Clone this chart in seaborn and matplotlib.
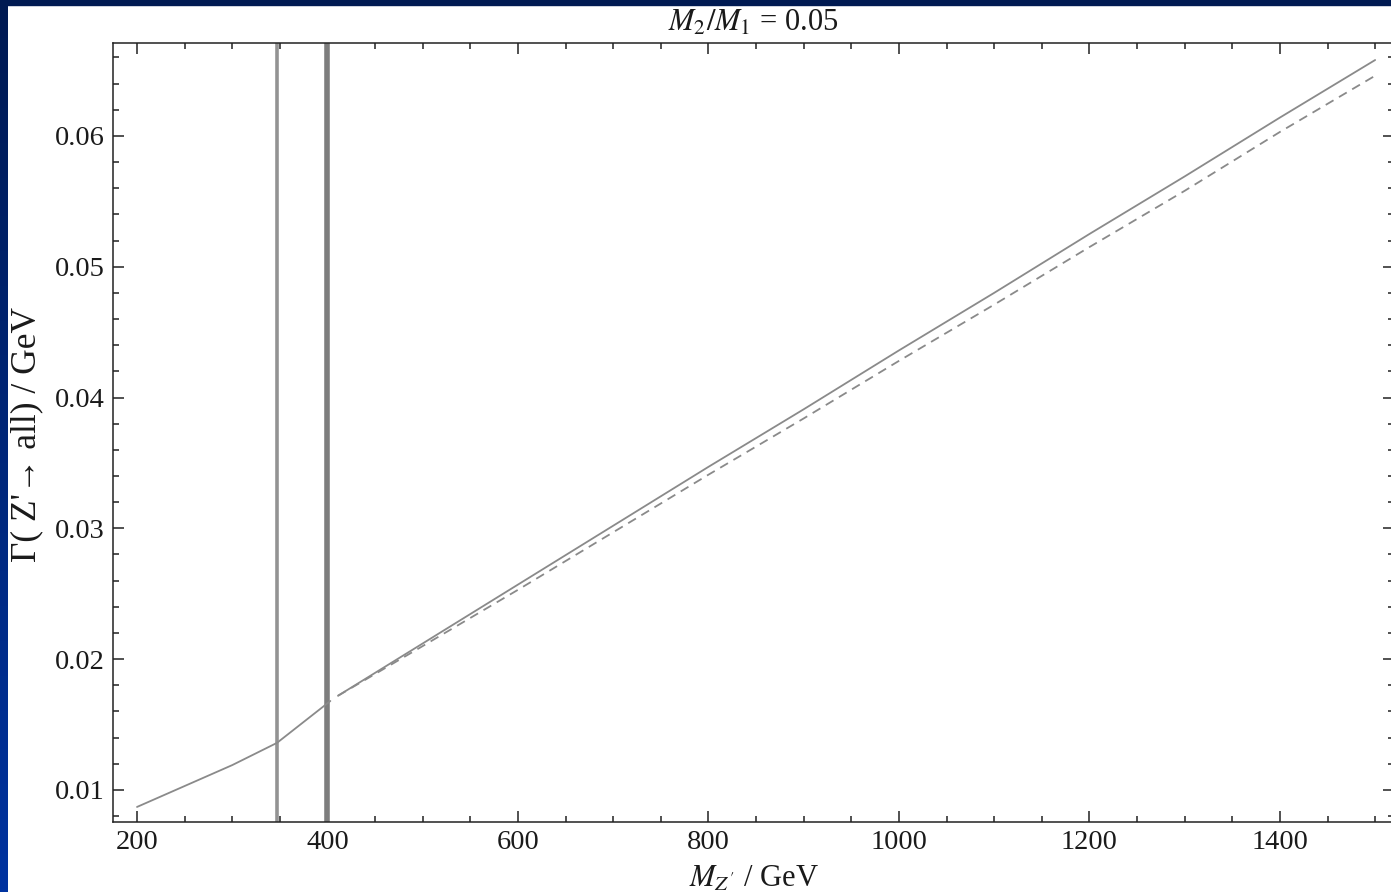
"""
Largura total do Z' em função da massa, M2/M1 = 0.05.
"""

import matplotlib
matplotlib.use("Agg")
import matplotlib.pyplot as plt
import matplotlib.ticker as mticker
from matplotlib.colors import LinearSegmentedColormap
import numpy as np
import seaborn as sns

# dados (GeV, GeV)
massa_baixa = [200, 250, 300, 347, 375, 403]
gamma_baixa = [0.0087, 0.0103, 0.0119, 0.0136, 0.0152, 0.0168]

massa_alta = [411, 500, 600, 700, 800, 900, 1000, 1100, 1200, 1300, 1400, 1500]
gamma_cheia = [0.0172, 0.0212, 0.0257, 0.0302, 0.0347, 0.0391, 0.0436,
               0.0480, 0.0525, 0.0569, 0.0614, 0.0658]
gamma_tracejada = [0.0172, 0.0210, 0.0253, 0.0297, 0.0341, 0.0384, 0.0428,
                   0.0471, 0.0515, 0.0558, 0.0603, 0.0646]

limiares = [347, 400]
xticks = [200, 400, 600, 800, 1000, 1200, 1400]
yticks = [0.01, 0.02, 0.03, 0.04, 0.05, 0.06]

CORES = {
    "curva":  "#8a8a8a",
    "lim1":   "#939393",
    "lim2":   "#7d7d7d",
    "texto":  "#1a1a1a",
    "navy":   "#001a52",
    "azul":   "#0033a0",
}

sns.set_theme(style="ticks")
plt.rcParams.update({
    "font.family": ["Liberation Serif", "DejaVu Serif"],
    "mathtext.fontset": "stix",
    "axes.edgecolor": "#222222",
    "axes.linewidth": 1.1,
    "xtick.direction": "in",
    "ytick.direction": "in",
    "xtick.color": "#222222",
    "ytick.color": "#222222",
    "xtick.labelcolor": CORES["texto"],
    "ytick.labelcolor": CORES["texto"],
})

fig = plt.figure(figsize=(13.91, 8.92), dpi=100, facecolor="white")

# moldura azul (estilo slide)
ax_borda = fig.add_axes([0, 0, 8 / 1391, 1])
grad = LinearSegmentedColormap.from_list("borda", [CORES["navy"], CORES["azul"]])
ax_borda.imshow(np.linspace(0, 1, 256).reshape(-1, 1), aspect="auto", cmap=grad)
ax_borda.set_axis_off()
fig.patches.append(plt.Rectangle((0, 1 - 5 / 892), 1, 5 / 892, transform=fig.transFigure,
                                 color=CORES["navy"], zorder=10))

ax = fig.add_axes([113.2 / 1391, 70 / 892, 1281 / 1391, 779 / 892])

for xv, cor, lw in zip(limiares, [CORES["lim1"], CORES["lim2"]], [2.6, 4.0]):
    ax.axvline(xv, color=cor, linewidth=lw, zorder=1)

sns.lineplot(x=massa_baixa, y=gamma_baixa, ax=ax, color=CORES["curva"], linewidth=1.3)
sns.lineplot(x=massa_alta, y=gamma_cheia, ax=ax, color=CORES["curva"], linewidth=1.3)
sns.lineplot(x=massa_alta, y=gamma_tracejada, ax=ax, color=CORES["curva"], linewidth=1.3,
             linestyle=(0, (5, 3.5)))

ax.set_xlim(175, 1520)
ax.set_ylim(0.00755, 0.0671)
ax.set_xticks(xticks)
ax.set_yticks(yticks)
ax.xaxis.set_minor_locator(mticker.MultipleLocator(50))
ax.yaxis.set_minor_locator(mticker.MultipleLocator(0.002))
ax.yaxis.set_major_formatter(mticker.FuncFormatter(lambda v, _: f"{v:.2f}"))
ax.tick_params(which="both", top=True, right=True, labelsize=20.5, width=1.1)
ax.tick_params(which="major", length=8, pad=6)
ax.tick_params(which="minor", length=4.5)

ax.set_xlabel(r"$M_{Z'}$ / GeV", fontsize=22, color=CORES["texto"], labelpad=7)
ax.set_ylabel("Γ( Z'→ all) / GeV", fontsize=25.5, color=CORES["texto"])
ax.yaxis.label.set_va("center")
ax.yaxis.set_label_coords(-86 / 1281, 0.497)
ax.set_title(r"$M_2/M_1$ = 0.05", fontsize=22, color=CORES["texto"], pad=9)

plt.savefig("out.png", dpi=100, facecolor="white")
plt.close()
